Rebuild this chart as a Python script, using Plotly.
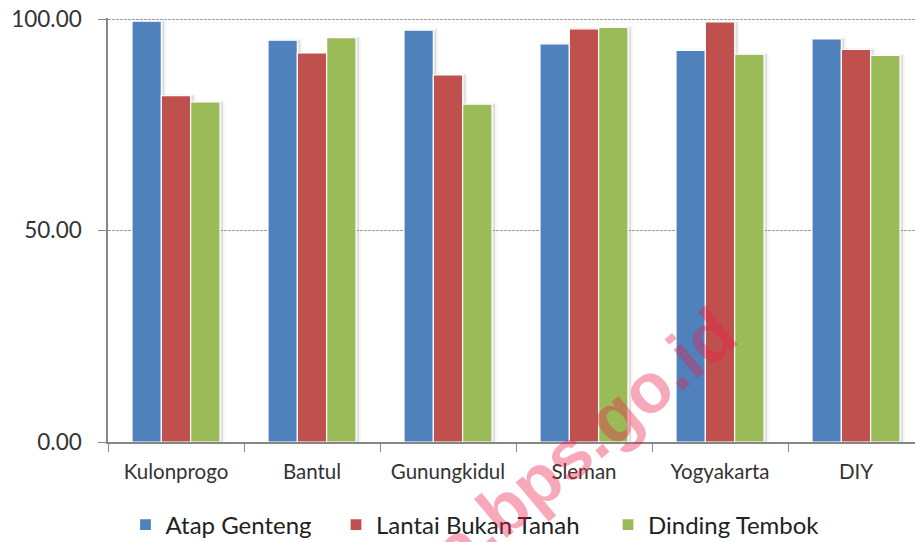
import plotly.graph_objects as go

categories = ["Kulonprogo", "Bantul", "Gunungkidul", "Sleman", "Yogyakarta", "DIY"]
atap_genteng = [99.5, 95.0, 97.4, 94.1, 92.6, 95.3]
lantai_bukan_tanah = [81.9, 92.0, 86.8, 97.7, 99.3, 92.8]
dinding_tembok = [80.4, 95.6, 79.9, 98.0, 91.7, 91.4]
series_names = ["Atap Genteng", "Lantai Bukan Tanah", "Dinding Tembok"]
series_values = [atap_genteng, lantai_bukan_tanah, dinding_tembok]
colors = ["#4F81BD", "#C0504D", "#9BBB59"]
y_ticks = [0, 50, 100]
y_tick_labels = ["0.00", "50.00", "100.00"]

FONT = "Lato"
W, H = 915, 542
L, R, T, B = 108, 0, 18, 100
plot_w = W - L - R
plot_h = H - T - B
cat_px = 136.0
x_lo = -0.5
x_hi = x_lo + plot_w / cat_px
shift = 3.0 / cat_px
y_top = 100.25

fig = go.Figure()

# soft shadows (drawn on main axis, shifted right)
for name, vals in zip(series_names, series_values):
    fig.add_trace(go.Bar(
        x=categories, y=vals, name=name + " shadow", showlegend=False,
        marker=dict(color="rgba(0,0,0,0.09)", line=dict(color="rgba(0,0,0,0.04)", width=3)),
        xaxis="x", yaxis="y", hoverinfo="skip",
    ))

legend_ids = ["legend", "legend2", "legend3"]
for name, vals, c, lg in zip(series_names, series_values, colors, legend_ids):
    fig.add_trace(go.Bar(
        x=categories, y=vals, name=name, legend=lg,
        marker=dict(color=c, line=dict(color="white", width=1.2)),
        xaxis="x2", yaxis="y",
    ))

# legend symbol centres (px) from the reference
legend_sym_px = [145.5, 356, 628]
legend_y = (H - B - 525) / plot_h

def legend_cfg(px):
    return dict(
        orientation="h", x=(px - 20 - L) / plot_w, xanchor="left",
        y=legend_y, yanchor="middle",
        font=dict(size=24, color="#222222", family=FONT),
        itemwidth=30, bgcolor="rgba(0,0,0,0)", borderwidth=0,
    )

fig.update_layout(
    width=W, height=H,
    margin=dict(l=L, r=R, t=T, b=B, autoexpand=False),
    paper_bgcolor="white", plot_bgcolor="white",
    barmode="group", bargap=0.353, bargroupgap=0.0,
    font=dict(family=FONT, color="#333333"),
    xaxis=dict(
        range=[x_lo - shift, x_hi - shift], showticklabels=False, showgrid=False,
        showline=False, ticks="", zeroline=False, fixedrange=True, automargin=False,
    ),
    xaxis2=dict(
        overlaying="x", side="bottom", range=[x_lo, x_hi],
        showline=True, linecolor="#868686", linewidth=1.5,
        ticks="outside", tickson="boundaries", ticklen=8, tickcolor="#868686", tickwidth=1.2,
        tickfont=dict(size=20.5, color="#333333", family=FONT),
        showgrid=False, zeroline=False, automargin=False, ticklabelstandoff=11,
    ),
    yaxis=dict(
        range=[0, y_top], tickvals=y_ticks, ticktext=y_tick_labels,
        tickfont=dict(size=22.5, color="#333333", family=FONT),
        showline=True, linecolor="#868686", linewidth=1.5,
        ticks="outside", ticklen=8, tickcolor="#868686", tickwidth=1.2,
        showgrid=True, gridcolor="#a0a0a0", griddash="3px,1px", gridwidth=1,
        zeroline=False, ticklabelstandoff=12, automargin=False,
    ),
    legend=legend_cfg(legend_sym_px[0]),
    legend2=legend_cfg(legend_sym_px[1]),
    legend3=legend_cfg(legend_sym_px[2]),
    showlegend=True,
)

fig.add_annotation(
    text="<b>jogja.bps.go.id</b>", xref="paper", yref="paper",
    x=(754 - L) / plot_w, y=(H - B - 290) / plot_h,
    xanchor="right", yanchor="top", textangle=-40, showarrow=False,
    font=dict(size=70, color="rgba(235,30,70,0.38)", family="Liberation Sans"),
)

fig.write_html(
    "out.html",
    config={"displayModeBar": False},
    post_script="document.body.style.margin='0';document.body.style.overflow='hidden';",
)
